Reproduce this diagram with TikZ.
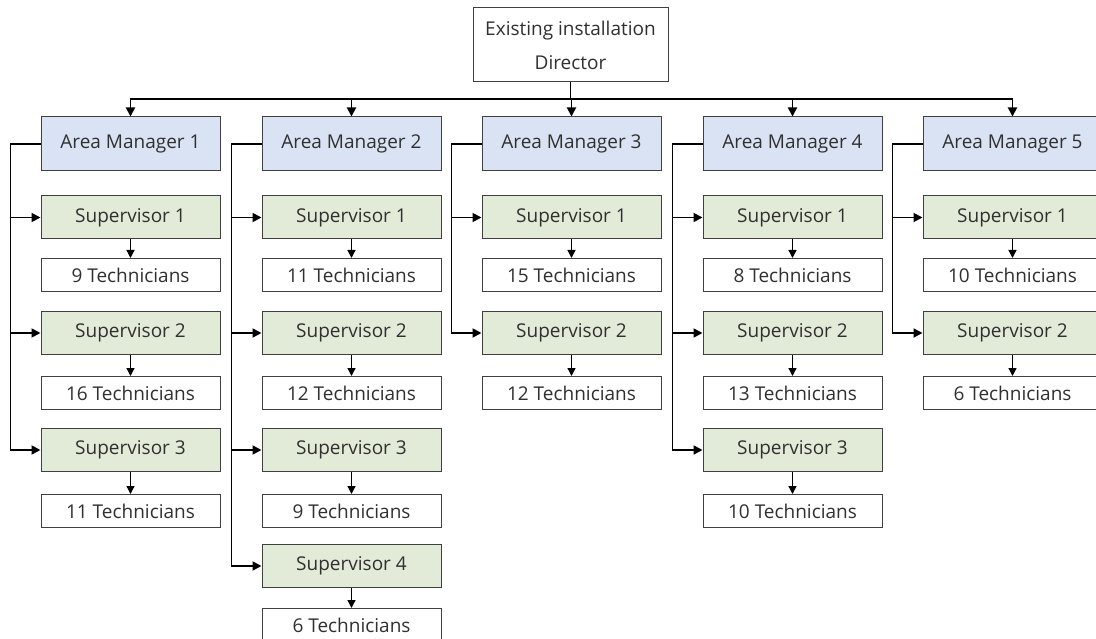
\documentclass[tikz,border=0pt]{standalone}
\usepackage{fontspec}
\setmainfont{Open Sans}
\usetikzlibrary{arrows.meta}
\definecolor{amfill}{HTML}{DAE3F3}
\definecolor{supfill}{HTML}{E2EBD8}
\definecolor{boxline}{HTML}{404040}
\definecolor{txt}{HTML}{303030}
\begin{document}
\begin{tikzpicture}[x=1pt,y=-1pt,
  box/.style={draw=boxline, line width=1pt, rectangle, minimum width=179pt,
    text=txt, font=\fontsize{19}{34}\selectfont, inner sep=0pt},
  topbox/.style={box, fill=white, minimum width=195pt, minimum height=74pt, align=center},
  mgr/.style={box, fill=amfill, minimum height=54pt},
  supbox/.style={box, fill=supfill, minimum height=43pt},
  techbox/.style={box, fill=white, minimum height=33pt},
  wire/.style={line width=1.8pt, line cap=rect},
  feed/.style={line width=1.8pt, -{Triangle[length=9pt,width=9pt]}},
  drop/.style={line width=1.3pt, -{Triangle[length=8pt,width=8pt]}}]
\useasboundingbox (0,0) rectangle (1096,639);
\clip (0,0) rectangle (1096,639);

% director
\node[topbox] (dir) at (570.5,45) {Existing installation\\Director};
\coordinate (bus) at (0,99);

% area managers and their branches
\foreach \c/\cx/\techs in {1/130.5/{9,16,11}, 2/351.5/{11,12,9,6},
                           3/571.5/{15,12}, 4/792.5/{8,13,10}, 5/1012.5/{10,6}} {
  \node[mgr] (am\c) at (\cx,144) {Area Manager \c};
  \draw[feed] (am\c.north |- bus) -- (am\c.north);
  \coordinate (spine\c) at ([xshift=-30pt]am\c.west);
  \draw[wire] (am\c.west) -- (spine\c);
  \foreach \t [count=\k] in \techs {
    \pgfmathsetmacro{\sy}{{217.5,333,450,566}[\k-1]}
    \pgfmathsetmacro{\ty}{{275,393,511,625}[\k-1]}
    \node[supbox] (s\c\k) at (\cx,\sy) {Supervisor \k};
    \node[techbox] (t\c\k) at (\cx,\ty) {\t\ Technicians};
    \draw[feed] (spine\c) |- (s\c\k.west);
    \draw[drop] (s\c\k.south) -- (t\c\k.north);
  }
}

% bus from the director to all area managers
\draw[wire] (dir.south) -- (dir.south |- bus);
\draw[wire] (am1.north |- bus) -- (am5.north |- bus);
\end{tikzpicture}
\end{document}
